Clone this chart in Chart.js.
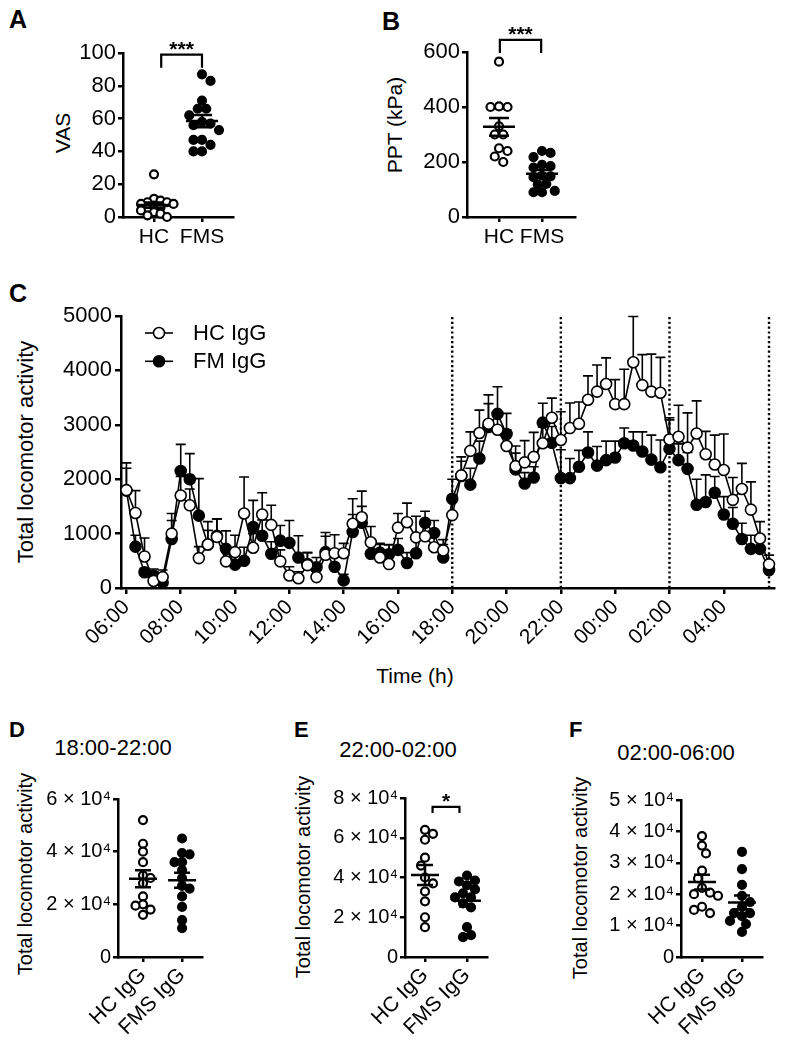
<!DOCTYPE html>
<html><head><meta charset="utf-8">
<script src="https://cdn.jsdelivr.net/npm/chart.js@4.4.1/dist/chart.umd.min.js"></script>
<style>
html,body{margin:0;padding:0;background:#fff;}
body{width:785px;height:1043px;position:relative;overflow:hidden;font-family:"Liberation Sans",Arial,Helvetica,sans-serif;color:#000;}
canvas{position:absolute;}
.t{position:absolute;line-height:1;white-space:nowrap;transform:translate(-50%,-50%);color:#000;}
.r{transform:translate(-50%,-50%) rotate(-90deg);}
.L{position:absolute;line-height:1;font-weight:bold;color:#000;}
</style></head><body>
<div class="L" style="left:9px;top:7px;font-size:25px;">A</div>
<div class="L" style="left:382px;top:9px;font-size:25px;">B</div>
<div class="L" style="left:9px;top:281px;font-size:25px;">C</div>
<div class="L" style="left:9px;top:719px;font-size:22px;">D</div>
<div class="L" style="left:294px;top:719px;font-size:22px;">E</div>
<div class="L" style="left:569px;top:719px;font-size:22px;">F</div>

<div class="t r" style="left:62px;top:133px;font-size:21px;">VAS</div>
<div class="t r" style="left:394px;top:125px;font-size:21px;">PPT (kPa)</div>
<div class="t r" style="left:26px;top:452px;font-size:22px;">Total locomotor activity</div>
<div class="t" style="left:415px;top:675px;font-size:21px;">Time (h)</div>
<div class="t r" style="left:25px;top:874px;font-size:20px;">Total locomotor activity</div>
<div class="t r" style="left:303px;top:877px;font-size:20px;">Total locomotor activity</div>
<div class="t r" style="left:580px;top:878px;font-size:20px;">Total locomotor activity</div>
<div class="t" style="left:113px;top:748px;font-size:22px;">18:00-22:00</div>
<div class="t" style="left:398px;top:750px;font-size:22px;">22:00-02:00</div>
<div class="t" style="left:676px;top:753px;font-size:22px;">02:00-06:00</div>

<script>
// ---------------- DATA ----------------
const groupLabelsAB = ['HC', 'FMS'];
const groupLabelsDEF = ['HC IgG', 'FMS IgG'];

const vasHC  = [26, 11, 10, 9, 9, 8, 8, 7, 6, 5, 4, 3, 2, 1, 0];
const vasFMS = [87, 83, 71, 66, 66, 62, 58, 57, 56, 53, 47, 47, 44, 40, 40];

const pptHC  = [565, 402, 400, 400, 330, 300, 300, 250, 240, 220, 200];
const pptFMS = [240, 233, 218, 190, 185, 180, 150, 148, 145, 120, 118, 95, 90, 90];

const actD_HC  = [52000, 43000, 40000, 36000, 31000, 30000, 28000, 23000, 20000, 19500, 18000, 16000];
const actD_FMS = [45000, 39500, 39000, 36000, 36000, 33000, 30000, 27000, 26000, 23000, 19000, 14000, 11000];
const actE_HC  = [64000, 62000, 59000, 50000, 46000, 40000, 37000, 33000, 28000, 20000, 15000];
const actE_FMS = [41000, 38500, 38000, 36000, 34000, 32000, 30000, 30000, 27000, 25000, 15000, 11000, 10000];
const actF_HC  = [38500, 35500, 33000, 27500, 25000, 22000, 20500, 20000, 19500, 16000, 15000, 14000];
const actF_FMS = [33500, 28000, 23000, 19500, 17500, 16000, 14000, 14000, 13000, 11500, 10500, 8000];

// Panel C: 20-min bins starting at 06:00
const hcMean = [1800,1380,580,130,200,1000,1700,1520,550,800,940,490,660,1370,740,1350,1160,490,230,180,420,200,610,640,640,1180,1300,840,560,440,1110,1210,930,950,750,690,
                1340,2070,2520,2850,3020,2910,2610,2240,2310,2410,2660,3130,2720,2940,3020,3460,3610,3750,3380,3380,4150,3730,3610,3590,2730,2780,2580,2840,2460,2270,2170,1620,1820,1440,910,435];
const hcSem  = [500,410,340,170,130,370,350,300,210,420,330,210,310,670,260,400,360,210,160,120,230,150,410,340,180,460,480,290,260,350,260,350,390,250,200,200,
                350,340,350,420,530,300,300,370,400,450,300,360,520,460,400,440,490,480,450,640,840,560,690,650,400,580,640,600,420,540,660,410,470,510,310,170];
const fmMean = [1790,760,290,230,100,900,2150,2000,1330,800,960,720,430,500,1120,960,630,870,830,560,440,380,660,390,140,1030,1200,630,650,620,700,460,640,1200,1010,560,
                1640,2060,1900,2380,2960,3200,2830,2180,1920,2030,3040,2670,2020,2020,2230,2490,2250,2350,2400,2660,2620,2510,2360,2220,2560,2350,2190,1530,1580,1750,1350,1180,900,720,720,330];
const fmSem  = [410,210,70,120,100,340,490,470,680,260,310,330,170,250,490,290,220,280,410,400,210,180,290,210,110,320,300,170,150,180,210,190,260,210,230,240,
                360,270,300,320,430,500,380,300,200,200,355,300,520,360,300,380,350,350,300,280,250,360,450,500,530,300,300,470,500,300,330,300,290,250,150,150];
const binMinutes = 20;
const timeTickHours  = [0, 2, 4, 6, 8, 10, 12, 14, 16, 18, 20, 22];
const timeTickLabels = ['06:00','08:00','10:00','12:00','14:00','16:00','18:00','20:00','22:00','00:00','02:00','04:00'];
const phaseBoundaryHours = [12, 16, 20, 71 / 3];   // 18:00, 22:00, 02:00, 05:40

// ---------------- HELPERS ----------------
const FONT = '"Liberation Sans", Arial, Helvetica, sans-serif';
Chart.defaults.font.family = FONT;
Chart.defaults.color = '#000';
Chart.defaults.animation = false;

function makeChart(box, pad, config) {
  const c = document.createElement('canvas');
  const W = box.right - box.left + pad.l + pad.r;
  const H = box.bottom - box.top + pad.t + pad.b;
  c.width = W; c.height = H;
  c.style.left = (box.left - pad.l) + 'px';
  c.style.top = (box.top - pad.t) + 'px';
  c.style.width = W + 'px'; c.style.height = H + 'px';
  document.body.appendChild(c);
  const o = config.options;
  o.responsive = false;
  o.maintainAspectRatio = false;
  o.layout = {padding: {top: pad.t, right: pad.r, left: 0, bottom: 0}};
  o.plugins = Object.assign({legend: {display: false}, tooltip: {enabled: false}}, o.plugins || {});
  o.events = [];
  o.scales.x.afterFit = s => { s.height = pad.b; s.paddingLeft = 0; s.paddingRight = 0; s.paddingTop = 0; s.paddingBottom = 0; };
  o.scales.y.afterFit = s => { s.width = pad.l; s.paddingTop = 0; s.paddingBottom = 0; s.paddingLeft = 0; s.paddingRight = 0; };
  return new Chart(c, config);
}

function axisStyle(tl) {
  return {
    grid: {drawOnChartArea: false, drawTicks: true, tickLength: tl, lineWidth: 2.5, color: '#000'},
    border: {display: true, width: 2.5, color: '#000'}
  };
}

function swarm(chart, collide) {
  const xs = chart.scales.x, ys = chart.scales.y;
  chart.data.datasets.forEach((ds, di) => {
    const cd = Array.isArray(collide) ? collide[di] : collide;
    const cx = xs.getPixelForValue(ds.group);
    const placed = [];
    const idx = ds.values.map((_, i) => i).sort((a, b) => ds.values[b] - ds.values[a]);
    const step = cd / 2;
    let sgn = 1;
    idx.forEach(i => {
      const py = ys.getPixelForValue(ds.values[i]);
      let off = 0;
      for (let k = 0; k < 80; k++) {
        const cand = k === 0 ? 0 : (k % 2 ? sgn : -sgn) * Math.ceil(k / 2) * step;
        if (placed.every(p => Math.hypot(p.x - (cx + cand), p.y - py) >= cd)) { off = cand; break; }
      }
      if (off !== 0) sgn = -sgn;
      placed.push({x: cx + off, y: py});
      ds.data[i].x = xs.getValueForPixel(cx + off);
    });
  });
  chart.update('none');
}

const meanSem = (half, capHalf) => ({
  id: 'meanSem',
  afterDatasetsDraw(chart) {
    const ctx = chart.ctx, xs = chart.scales.x, ys = chart.scales.y;
    chart.data.datasets.forEach(ds => {
      const v = ds.values, n = v.length;
      const m = v.reduce((a, b) => a + b, 0) / n;
      const sd = Math.sqrt(v.reduce((a, b) => a + (b - m) * (b - m), 0) / (n - 1));
      const se = sd / Math.sqrt(n);
      const cx = xs.getPixelForValue(ds.group);
      const ym = ys.getPixelForValue(m), yt = ys.getPixelForValue(m + se), yb = ys.getPixelForValue(m - se);
      ctx.save();
      ctx.strokeStyle = '#000'; ctx.lineWidth = 2.5;
      ctx.beginPath();
      ctx.moveTo(cx - half, ym); ctx.lineTo(cx + half, ym);
      ctx.moveTo(cx - capHalf, yt); ctx.lineTo(cx + capHalf, yt);
      ctx.moveTo(cx - capHalf, yb); ctx.lineTo(cx + capHalf, yb);
      ctx.moveTo(cx, yt); ctx.lineTo(cx, yb);
      ctx.stroke();
      ctx.restore();
    });
  }
});

const bracket = cfg => ({
  id: 'bracket',
  afterDraw(chart) {
    const ctx = chart.ctx, xs = chart.scales.x, ys = chart.scales.y;
    const x1 = xs.getPixelForValue(cfg.from), x2 = xs.getPixelForValue(cfg.to), y = ys.getPixelForValue(cfg.y);
    ctx.save();
    ctx.strokeStyle = '#000'; ctx.lineWidth = 2.2;
    ctx.beginPath();
    ctx.moveTo(x1, y + cfg.drop); ctx.lineTo(x1, y); ctx.lineTo(x2, y); ctx.lineTo(x2, y + cfg.drop);
    ctx.stroke();
    ctx.fillStyle = '#000';
    ctx.font = 'bold ' + cfg.size + 'px ' + FONT;
    ctx.textAlign = 'center'; ctx.textBaseline = 'alphabetic';
    ctx.fillText(cfg.text, (x1 + x2) / 2, y + 1);
    ctx.restore();
  }
});

function dotPanel(box, pad, groups, labels, xr, y, rot, xFont, plugins, collide) {
  const datasets = groups.map((vals, g) => ({
    values: vals, group: g,
    data: vals.map(v => ({x: g, y: v})),
    pointRadius: 4, pointBorderWidth: 2.2,
    pointBackgroundColor: g === 0 ? '#fff' : '#000', pointBorderColor: '#000',
    showLine: false, clip: false
  }));
  const ch = makeChart(box, pad, {
    type: 'scatter',
    data: {datasets},
    options: {
      scales: {
        x: Object.assign({
          type: 'linear', min: xr[0], max: xr[1],
          afterBuildTicks: s => { s.ticks = [{value: 0}, {value: 1}]; },
          ticks: {callback: (v, i) => labels[i], font: {size: xFont}, autoSkip: false,
                  minRotation: rot, maxRotation: rot, padding: rot ? 1 : 3}
        }, axisStyle(5)),
        y: Object.assign({
          type: 'linear', min: 0, max: y.max,
          ticks: {stepSize: y.step, font: {size: y.font}, padding: 2, callback: y.cb}
        }, axisStyle(5))
      }
    },
    plugins: plugins
  });
  swarm(ch, collide);
  return ch;
}

const plain = v => String(v);
const sci = v => v === 0 ? '0' : (v / 1e4) + ' \u00D7 10\u2074';

// ---------------- PANEL A ----------------
dotPanel({left: 123, top: 53, right: 233, bottom: 217}, {l: 60, t: 30, r: 8, b: 40},
  [vasHC, vasFMS], groupLabelsAB, [-0.646, 1.646],
  {max: 100, step: 20, font: 22, cb: plain}, 0, 21,
  [meanSem(16, 10), bracket({from: 0.15, to: 1, y: 99, drop: 13, text: '***', size: 21})], [6.5, 8.5]);

// ---------------- PANEL B ----------------
dotPanel({left: 467, top: 52, right: 575, bottom: 217}, {l: 60, t: 40, r: 8, b: 40},
  [pptHC, pptFMS], groupLabelsAB, [-0.744, 1.767],
  {max: 600, step: 200, font: 22, cb: plain}, 0, 21,
  [meanSem(16, 10), bracket({from: 0.02, to: 0.98, y: 644, drop: 13, text: '***', size: 21})], 8.5);

// ---------------- PANEL D / E / F ----------------
dotPanel({left: 118, top: 799, right: 202, bottom: 957}, {l: 75, t: 15, r: 8, b: 85},
  [actD_HC, actD_FMS], groupLabelsDEF, [-0.64, 1.51],
  {max: 60000, step: 20000, font: 20, cb: sci}, 45, 21, [meanSem(14, 8)], 7.5);

dotPanel({left: 405, top: 798, right: 487, bottom: 957}, {l: 75, t: 25, r: 8, b: 85},
  [actE_HC, actE_FMS], groupLabelsDEF, [-0.476, 1.476],
  {max: 80000, step: 20000, font: 20, cb: sci}, 45, 21,
  [meanSem(14, 8), bracket({from: 0.18, to: 0.82, y: 75500, drop: 6, text: '*', size: 21})], 8);

dotPanel({left: 681, top: 800, right: 762, bottom: 957}, {l: 75, t: 15, r: 8, b: 85},
  [actF_HC, actF_FMS], groupLabelsDEF, [-0.525, 1.5],
  {max: 50000, step: 10000, font: 20, cb: sci}, 45, 21, [meanSem(14, 8)], 8);

// ---------------- PANEL C ----------------
const sampleHours = hcMean.map((_, i) => i * binMinutes / 60);

const errBars = {
  id: 'errBars',
  beforeDatasetsDraw(chart) {
    const ctx = chart.ctx, ys = chart.scales.y;
    chart.data.datasets.forEach((ds, di) => {
      const meta = chart.getDatasetMeta(di);
      ctx.save();
      ctx.strokeStyle = '#000'; ctx.lineWidth = 1.6;
      ctx.beginPath();
      meta.data.forEach((pt, i) => {
        const yt = ys.getPixelForValue(ds.data[i].y + ds.err[i]);
        ctx.moveTo(pt.x, pt.y); ctx.lineTo(pt.x, yt);
        ctx.moveTo(pt.x - 5, yt); ctx.lineTo(pt.x + 5, yt);
      });
      ctx.stroke();
      ctx.restore();
    });
  }
};

const phaseLines = {
  id: 'phaseLines',
  beforeDatasetsDraw(chart) {
    const ctx = chart.ctx, xs = chart.scales.x, a = chart.chartArea;
    ctx.save();
    ctx.strokeStyle = '#000'; ctx.lineWidth = 2.4; ctx.setLineDash([2.2, 2.6]);
    phaseBoundaryHours.forEach(h => {
      const x = xs.getPixelForValue(h);
      ctx.beginPath(); ctx.moveTo(x, a.bottom); ctx.lineTo(x, a.top); ctx.stroke();
    });
    ctx.restore();
  }
};

const legendIn = {
  id: 'legendIn',
  afterDraw(chart) {
    const ctx = chart.ctx, a = chart.chartArea;
    chart.data.datasets.forEach((ds, i) => {
      const y = a.top + 17 + i * 28.3;
      ctx.save();
      ctx.strokeStyle = '#000'; ctx.lineWidth = 1.6;
      ctx.beginPath(); ctx.moveTo(a.left + 24, y); ctx.lineTo(a.left + 52, y); ctx.stroke();
      ctx.beginPath(); ctx.arc(a.left + 38, y, 5.5, 0, Math.PI * 2);
      ctx.fillStyle = ds.pointBackgroundColor; ctx.fill(); ctx.lineWidth = 1.6; ctx.stroke();
      ctx.fillStyle = '#000'; ctx.font = '22px ' + FONT;
      ctx.textAlign = 'left'; ctx.textBaseline = 'middle';
      ctx.fillText(ds.label, a.left + 72, y + 1);
      ctx.restore();
    });
  }
};

makeChart({left: 121, top: 316, right: 774, bottom: 588}, {l: 60, t: 10, r: 8, b: 70}, {
  type: 'line',
  data: {
    datasets: [
      {label: 'HC IgG', data: hcMean.map((v, i) => ({x: sampleHours[i], y: v})), err: hcSem,
       borderColor: '#000', borderWidth: 1.6, pointRadius: 5.5, pointBorderWidth: 1.6,
       pointBackgroundColor: '#fff', pointBorderColor: '#000', fill: false, tension: 0, clip: false},
      {label: 'FM IgG', data: fmMean.map((v, i) => ({x: sampleHours[i], y: v})), err: fmSem,
       borderColor: '#000', borderWidth: 1.6, pointRadius: 5.5, pointBorderWidth: 1.6,
       pointBackgroundColor: '#000', pointBorderColor: '#000', fill: false, tension: 0, clip: false}
    ]
  },
  options: {
    scales: {
      x: Object.assign({
        type: 'linear', min: -0.2, max: 23.85,
        afterBuildTicks: s => { s.ticks = timeTickHours.map(v => ({value: v})); },
        ticks: {callback: (v, i) => timeTickLabels[i], font: {size: 21}, autoSkip: false,
                minRotation: 45, maxRotation: 45, padding: 1}
      }, axisStyle(6)),
      y: Object.assign({
        type: 'linear', min: 0, max: 5000,
        ticks: {stepSize: 1000, font: {size: 22}, padding: 3, callback: plain}
      }, axisStyle(6))
    }
  },
  plugins: [phaseLines, errBars, legendIn]
});
</script>
</body></html>
